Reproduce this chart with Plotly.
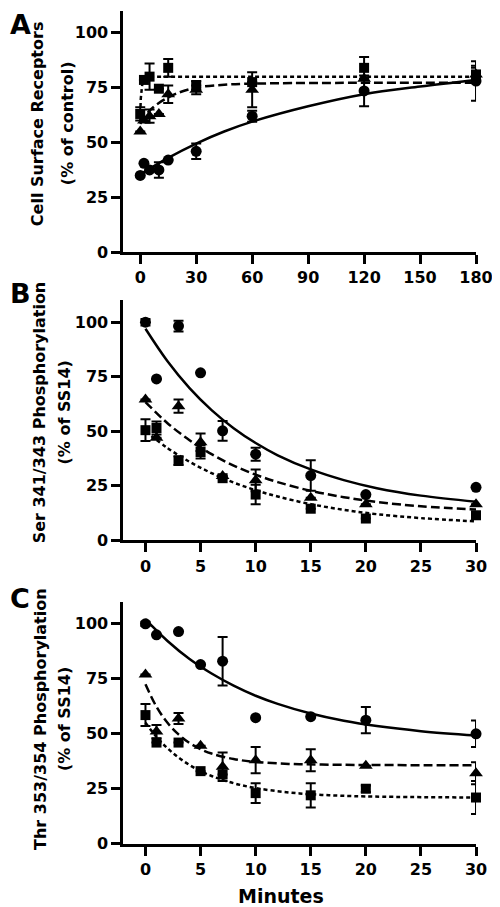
import plotly.graph_objects as go

# ---------------- Panel A: cell surface receptors ----------------
A_x = [0, 2, 5, 10, 15, 30, 60, 120, 180]
A_circ = [35, 40.5, 37.5, 37.5, 42, 46, 62, 73.5, 78]
A_circ_err = [0, 0, 0, 3.5, 0, 3.5, 2.5, 7, 9]
A_sq = [63, 78.5, 80, 74.5, 84, 76, 77.5, 84, 81]
A_sq_err = [3, 0, 6, 0, 4, 2, 0, 5, 4]
A_tri = [55, 60, 62, 63, 72, 74, 74, 79, 81]
A_tri_err = [0, 0, 3, 0, 4, 2, 8, 0, 3]

A_fit_solid_x = [0, 15, 30, 45, 60, 90, 120, 150, 180]
A_fit_solid_y = [35.5, 43, 49.5, 55, 59.5, 66.5, 72, 75.5, 78.5]
A_fit_dash_x = [0, 5, 10, 15, 20, 30, 45, 60, 90, 180]
A_fit_dash_y = [58.5, 64.5, 68, 70.5, 72.5, 75, 76.3, 76.8, 77.1, 77.2]
A_fit_dot_x = [0, 0.3, 1, 2, 3, 4, 180]
A_fit_dot_y = [63, 70, 76, 78.7, 79.6, 80, 80]

# ---------------- Panel B: Ser 341/343 ----------------
B_x = [0, 1, 3, 5, 7, 10, 15, 20, 30]
B_circ = [100, 74, 98.2, 76.8, 50.2, 39.5, 29.7, 21, 24.3]
B_circ_err = [1.5, 0, 2.5, 0, 4.5, 3, 7, 0, 0]
B_tri = [64.5, 47, 61.5, 45, 29.5, 27.5, 19.5, 16.5, 16.5]
B_tri_err = [0, 0, 3, 4, 0, 5, 0, 0, 0]
B_sq = [50.5, 51.5, 36.5, 40.5, 28.5, 21, 14.5, 10, 11.5]
B_sq_err = [5, 3, 2, 3, 0, 4.5, 0, 0, 0]

BC_fit_x = [0, 2, 4, 6, 8, 10, 12, 15, 18, 21, 25, 30]
B_fit_solid = [97, 82.1, 69.8, 59.7, 51.4, 44.6, 39.0, 32.5, 27.6, 23.9, 20.5, 17.7]
B_fit_dash = [63.4, 53.7, 45.9, 39.5, 34.3, 30.1, 26.7, 22.7, 19.8, 17.6, 15.6, 14.1]
B_fit_dot = [50, 42.3, 36.0, 30.8, 26.5, 23.0, 20.1, 16.6, 14.0, 12.0, 10.2, 8.7]

# ---------------- Panel C: Thr 353/354 ----------------
C_x = [0, 1, 3, 5, 7, 10, 15, 20, 30]
C_circ = [100, 95, 96.5, 81.5, 83, 57.3, 57.8, 56.2, 50]
C_circ_err = [1, 0, 0, 0, 11, 0, 0, 6, 6]
C_tri = [77, 51, 57, 44.5, 35, 38, 38, 35.5, 32]
C_tri_err = [0, 3, 2.5, 0, 6.5, 6, 5, 0, 5]
C_sq = [58.5, 46, 46, 33, 31.5, 23, 22, 25, 21]
C_sq_err = [5, 0, 0, 0, 0, 4.5, 5.5, 1.5, 7.5]

C_fit_solid = [102, 92.2, 84.0, 77.4, 71.9, 67.3, 63.6, 59.2, 55.9, 53.5, 51.2, 49.2]
C_fit_fast_x = [0, 1, 2, 3, 4, 5, 6, 8, 10, 13, 16, 20, 30]
C_fit_dash = [72.5, 62.3, 55.0, 49.7, 45.8, 43.0, 41.0, 38.5, 37.2, 36.3, 36.0, 35.8, 35.7]
C_fit_dot = [55, 48.6, 43.4, 39.2, 35.8, 33.0, 30.8, 27.5, 25.3, 23.3, 22.2, 21.5, 21.0]

Y_TICKS = [0, 25, 50, 75, 100]
A_X_TICKS = [0, 30, 60, 90, 120, 150, 180]
BC_X_TICKS = [0, 5, 10, 15, 20, 25, 30]

TITLE_A = ["Cell Surface Receptors", "(% of control)"]
TITLE_B = ["Ser 341/343 Phosphorylation", "(% of SS14)"]
TITLE_C = ["Thr 353/354 Phosphorylation", "(% of SS14)"]

FONT = "DejaVu Sans"
W, H = 500, 907

fig = go.Figure()

def add_points(x, y, err, symbol, size, xa, ya):
    fig.add_trace(go.Scatter(
        x=x, y=y, mode="markers", xaxis=xa, yaxis=ya, cliponaxis=False,
        marker=dict(symbol=symbol, size=size, color="black", line=dict(width=0)),
        error_y=dict(type="data", array=err, visible=True, color="black",
                     thickness=2, width=5),
        showlegend=False))

def add_line(x, y, dash, xa, ya, shape="spline"):
    fig.add_trace(go.Scatter(
        x=x, y=y, mode="lines", xaxis=xa, yaxis=ya, cliponaxis=False,
        line=dict(color="black", width=2.5, dash=dash, shape=shape),
        showlegend=False))

SOLID, DASH, DOT = "solid", "9px,4px", "4px,3px"

# Panel A
add_line(A_fit_solid_x, A_fit_solid_y, SOLID, "x", "y")
add_line(A_fit_dash_x, A_fit_dash_y, DASH, "x", "y")
add_line(A_fit_dot_x, A_fit_dot_y, DOT, "x", "y", shape="linear")
add_points(A_x, A_circ, A_circ_err, "circle", 11, "x", "y")
add_points(A_x, A_tri, A_tri_err, "triangle-up", 12, "x", "y")
add_points(A_x, A_sq, A_sq_err, "square", 10, "x", "y")

# Panel B
add_line(BC_fit_x, B_fit_solid, SOLID, "x2", "y2")
add_line(BC_fit_x, B_fit_dash, DASH, "x2", "y2")
add_line(BC_fit_x, B_fit_dot, DOT, "x2", "y2")
add_points(B_x, B_circ, B_circ_err, "circle", 11, "x2", "y2")
add_points(B_x, B_tri, B_tri_err, "triangle-up", 12, "x2", "y2")
add_points(B_x, B_sq, B_sq_err, "square", 10, "x2", "y2")

# Panel C
add_line(BC_fit_x, C_fit_solid, SOLID, "x3", "y3")
add_line(C_fit_fast_x, C_fit_dash, DASH, "x3", "y3")
add_line(C_fit_fast_x, C_fit_dot, DOT, "x3", "y3")
add_points(C_x, C_circ, C_circ_err, "circle", 11, "x3", "y3")
add_points(C_x, C_tri, C_tri_err, "triangle-up", 12, "x3", "y3")
add_points(C_x, C_sq, C_sq_err, "square", 10, "x3", "y3")

tickfont = dict(family=FONT, size=16, color="black", weight="bold")
axis_common = dict(showline=True, linewidth=3, linecolor="black", ticks="outside",
                   ticklen=9, tickwidth=2.5, tickcolor="black", showgrid=False,
                   zeroline=False, tickfont=tickfont)

x_dom = [119.5 / W, 484.5 / W]

def ydom(top_px, bottom_px):
    return [1 - bottom_px / H, 1 - top_px / H]

fig.update_layout(
    width=W, height=H, margin=dict(l=0, r=0, t=0, b=0),
    paper_bgcolor="white", plot_bgcolor="white",
    xaxis=dict(domain=x_dom, range=[-9, 180], tickvals=A_X_TICKS, anchor="y", **axis_common),
    yaxis=dict(domain=ydom(2.8, 247), range=[0, 110], tickvals=Y_TICKS, anchor="x", **axis_common),
    xaxis2=dict(domain=x_dom, range=[-2, 30], tickvals=BC_X_TICKS, anchor="y2", **axis_common),
    yaxis2=dict(domain=ydom(295.6, 538.3), range=[0, 110], tickvals=Y_TICKS, anchor="x2", **axis_common),
    xaxis3=dict(domain=x_dom, range=[-2, 30], tickvals=BC_X_TICKS, anchor="y3", **axis_common),
    yaxis3=dict(domain=ydom(600.5, 845), range=[0, 110], tickvals=Y_TICKS, anchor="x3", **axis_common),
)

ann_font = dict(family=FONT, size=16, color="black", weight="bold")

def ytitle(lines, cy, x1, x2):
    for text, cx in zip(lines, [x1, x2]):
        fig.add_annotation(text=text, x=cx / W, y=1 - cy / H, xref="paper", yref="paper",
                           textangle=-90, showarrow=False, xanchor="center", yanchor="middle",
                           font=ann_font)

ytitle(TITLE_A, 116.5, 30, 61)
ytitle(TITLE_B, 409, 33, 58)
ytitle(TITLE_C, 719, 33, 58)

letter_font = dict(family=FONT, size=27, color="black", weight="bold")
for letter, cy in [("A", 16.5), ("B", 289), ("C", 597)]:
    fig.add_annotation(text=letter, x=0, y=1 - cy / H, xref="paper", yref="paper",
                       showarrow=False, xanchor="left", yanchor="middle", font=letter_font)

fig.add_annotation(text="Minutes", x=283 / W, y=1 - 897.5 / H, xref="paper", yref="paper",
                   showarrow=False, xanchor="center", yanchor="middle",
                   font=dict(family=FONT, size=19, color="black", weight="bold"))

fig.write_html("out.html")
